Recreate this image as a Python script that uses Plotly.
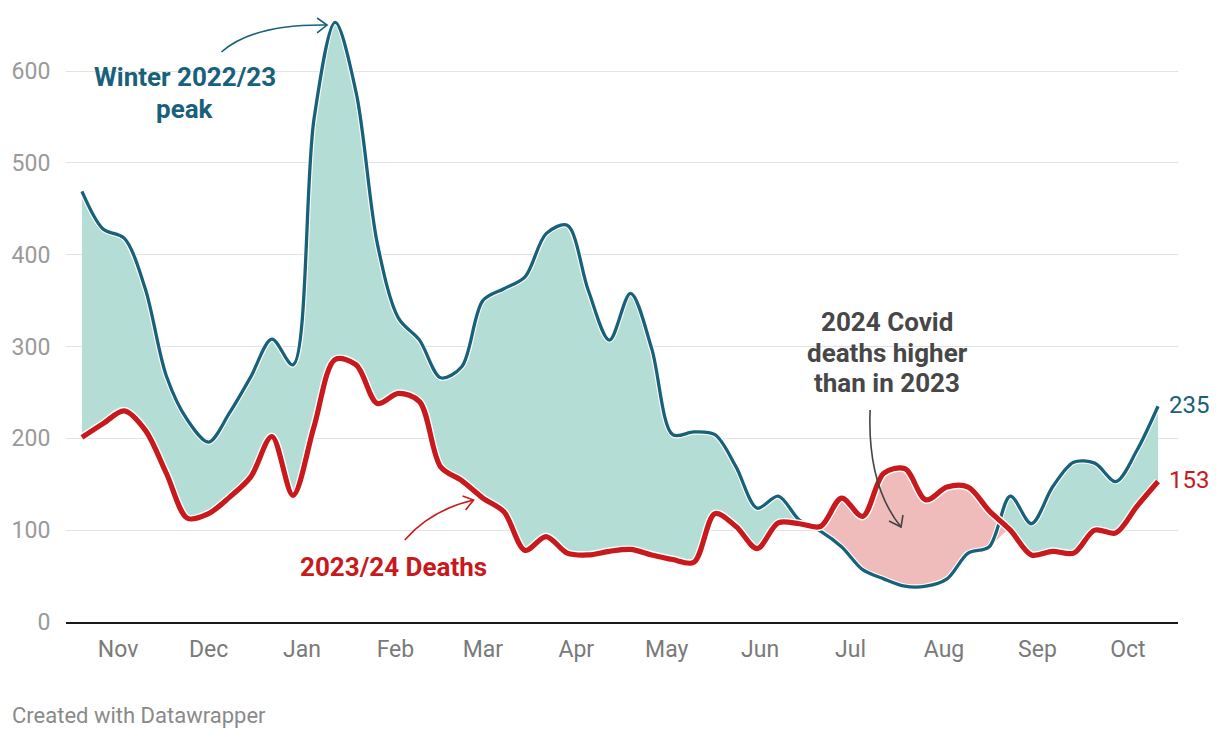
import plotly.graph_objects as go
import pandas as pd

# ---- data ----
start_week = "2023-10-20"
n_weeks = 52
deaths_2022_23 = [469, 428, 418, 363, 268, 220, 196, 228, 267, 308, 280, 548,
                  653, 576, 412, 331, 307, 266, 278, 350, 363, 376, 423, 432,
                  361, 307, 358, 298, 204, 207, 204, 169, 124, 137, 111, 99,
                  82, 57, 47, 39, 39, 47, 75, 82, 137, 107, 147, 174,
                  173, 153, 187, 235]
deaths_2023_24 = [201, 216, 230, 209, 162, 113, 118, 136, 158, 202, 138, 213,
                  286, 280, 238, 249, 240, 169, 154, 135, 120, 78, 93, 75,
                  73, 77, 79, 73, 68, 65, 118, 104, 80, 108, 107, 104,
                  135, 115, 162, 167, 133, 147, 147, 121, 100, 73, 77, 75,
                  100, 97, 126, 153]
month_ticks = ["2023-11-01", "2023-12-01", "2024-01-01", "2024-02-01", "2024-03-01",
               "2024-04-01", "2024-05-01", "2024-06-01", "2024-07-01", "2024-08-01",
               "2024-09-01", "2024-10-01"]
month_labels = ["Nov", "Dec", "Jan", "Feb", "Mar", "Apr", "May", "Jun", "Jul", "Aug", "Sep", "Oct"]
y_ticks = [0, 100, 200, 300, 400, 500, 600]

dates = pd.date_range(start_week, periods=n_weeks, freq="7D")
lower = [min(a, b) for a, b in zip(deaths_2022_23, deaths_2023_24)]

BLUE = "#19607a"
RED = "#c8191c"
TEAL_FILL = "#b3ddd5"
PINK_FILL = "#efbcbb"
FONT = "Roboto"

# layout geometry (pixels)
L, R, T, B = 62, 42, 16, 116
W, H = 1220, 738
PW, PH = W - L - R, H - T - B


def PX(x):
    return (x - L) / PW


def PY(y):
    return (H - B - y) / PH


fig = go.Figure()
spl = dict(shape="spline", smoothing=0.9)

# teal fill between the two series everywhere
fig.add_trace(go.Scatter(x=dates, y=deaths_2023_24, mode="lines", line=dict(width=0, **spl),
                         hoverinfo="skip", showlegend=False))
fig.add_trace(go.Scatter(x=dates, y=deaths_2022_23, mode="lines", line=dict(width=0, **spl),
                         fill="tonexty", fillcolor=TEAL_FILL, hoverinfo="skip", showlegend=False))
# pink fill where 2023/24 is above 2022/23
fig.add_trace(go.Scatter(x=dates, y=lower, mode="lines", line=dict(width=0, **spl),
                         hoverinfo="skip", showlegend=False))
fig.add_trace(go.Scatter(x=dates, y=deaths_2023_24, mode="lines", line=dict(width=0, **spl),
                         fill="tonexty", fillcolor=PINK_FILL, hoverinfo="skip", showlegend=False))

# lines with white halos
fig.add_trace(go.Scatter(x=dates, y=deaths_2022_23, mode="lines",
                         line=dict(color="white", width=5.5, **spl), hoverinfo="skip", showlegend=False))
fig.add_trace(go.Scatter(x=dates, y=deaths_2022_23, mode="lines",
                         line=dict(color=BLUE, width=3.3, **spl), name="Winter 2022/23", showlegend=False))
fig.add_trace(go.Scatter(x=dates, y=deaths_2023_24, mode="lines",
                         line=dict(color="white", width=8, **spl), hoverinfo="skip", showlegend=False))
fig.add_trace(go.Scatter(x=dates, y=deaths_2023_24, mode="lines",
                         line=dict(color=RED, width=5.2, **spl), name="2023/24 Deaths", showlegend=False))

anns = []
def txt(x, y, text, color, size=26, bold=True, xanchor="center"):
    anns.append(dict(x=PX(x), y=PY(y), xref="paper", yref="paper", text=(f"<b>{text}</b>" if bold else text),
                     showarrow=False, xanchor=xanchor, yanchor="middle",
                     font=dict(family=FONT, size=size, color=color), align="center"))

txt(181, 77, "Winter 2022/23", BLUE)
txt(181, 109, "peak", BLUE)
txt(391, 567, "2023/24 Deaths", RED)
GREY = "#474747"
txt(886, 322, "2024 Covid", GREY)
txt(886, 353, "deaths higher", GREY)
txt(886, 383, "than in 2023", GREY)
txt(1167, 405, "235", BLUE, size=24, bold=False, xanchor="left")
txt(1167, 480, "153", RED, size=24, bold=False, xanchor="left")
anns.append(dict(x=PX(6), y=PY(715), xref="paper", yref="paper", text="Created with Datawrapper",
                 showarrow=False, xanchor="left", yanchor="middle",
                 font=dict(family=FONT, size=22, color="#8a8a8a")))

shapes = []
def path(points_str, color, width=1.6):
    shapes.append(dict(type="path", xref="paper", yref="paper", path=points_str,
                       line=dict(color=color, width=width)))

def P(x, y):
    return f"{PX(x):.5f},{PY(y):.5f}"

# teal arrow
path(f"M {P(218, 52)} Q {P(250, 24)} {P(323, 25)}", BLUE)
path(f"M {P(314, 18)} L {P(324, 25)} L {P(314, 33)}", BLUE)
# red arrow
path(f"M {P(402, 540)} Q {P(428, 510)} {P(471, 500)}", RED)
path(f"M {P(460, 496)} L {P(471, 500)} L {P(463, 510)}", RED)
# grey arrow
path(f"M {P(869, 410)} Q {P(866, 485)} {P(900, 527)}", "#444444")
path(f"M {P(888, 521)} L {P(900, 527)} L {P(902, 515)}", "#444444")

fig.update_layout(
    width=W, height=H,
    margin=dict(l=L, r=R, t=T, b=B),
    paper_bgcolor="white", plot_bgcolor="white",
    font=dict(family=FONT),
    annotations=anns, shapes=shapes,
    xaxis=dict(range=["2023-10-14 17:00", "2024-10-17 15:00"], tickvals=month_ticks, ticktext=month_labels,
               showgrid=False, zeroline=False, showline=True, linecolor="#1a1a1a", linewidth=2,
               ticks="outside", ticklen=5, tickcolor="rgba(0,0,0,0)",
               tickfont=dict(family=FONT, size=23, color="#7a7a7a")),
    yaxis=dict(range=[0, 660], tickvals=y_ticks, ticktext=[str(v) for v in y_ticks],
               showgrid=True, gridcolor="#e3e3e3", gridwidth=1.3, zeroline=False,
               ticks="outside", ticklen=10, tickcolor="rgba(0,0,0,0)",
               tickfont=dict(family=FONT, size=23, color="#9a9a9a")),
)

fig.write_html("out.html")
